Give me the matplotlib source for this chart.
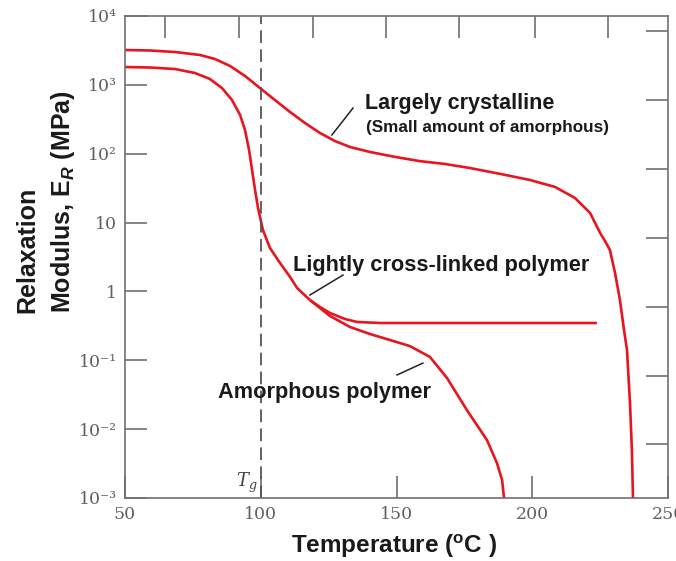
"""
Relaxation modulus vs temperature for amorphous, lightly cross-linked
and largely crystalline polymers (textbook style figure).
"""
import matplotlib as mpl
mpl.use("Agg")
import matplotlib.pyplot as plt
from matplotlib.ticker import FixedLocator, NullFormatter

mpl.rcParams.update({
    "mathtext.fontset": "custom", "mathtext.rm": "Liberation Sans:bold",
    "mathtext.it": "Liberation Sans:italic:bold", "mathtext.bf": "Liberation Sans:bold",
})

# temperature (C) and modulus (MPa)
cryst_T = [50.0, 59.2, 68.4, 77.6, 83.1, 88.7, 94.2, 99.7, 105.2, 110.8, 116.3, 121.8,
           127.3, 132.9, 140.2, 149.4, 158.6, 167.8, 177.0, 188.1, 199.2, 208.4, 215.7,
           221.3, 225.0, 226.8, 228.6, 230.5, 232.3, 233.8, 234.9, 236.0, 236.7, 237.1]
cryst_E = [3208, 3155, 3000, 2716, 2377, 1880, 1345, 900, 603, 403, 279, 200,
           153, 125, 106, 90, 78, 71, 62, 51, 41.5, 32.9, 22.8,
           13.8, 7.06, 5.4, 4.0, 1.85, 0.75, 0.275, 0.141, 0.024, 0.005, 0.001]

base_T = [50.0, 59.2, 68.4, 75.8, 81.3, 85.7, 89.4, 92.4, 94.2, 95.7, 96.8, 97.9, 99.0,
          100.8, 103.4, 107.1, 110.8, 113.4, 118.1]
base_E = [1816, 1786, 1698, 1486, 1216, 900, 603, 365, 221, 113, 58, 29.7, 16.3,
          7.8, 4.27, 2.59, 1.62, 1.12, 0.75]

xlink_T = [118.1, 121.8, 125.5, 131.0, 135.5, 143.9, 223.8]
xlink_E = [0.75, 0.594, 0.486, 0.398, 0.360, 0.348, 0.348]

amorph_T = [118.1, 125.5, 132.9, 140.2, 147.6, 154.9, 162.3, 168.6, 175.9, 183.3,
            187.0, 188.9, 189.6]
amorph_E = [0.75, 0.44, 0.304, 0.241, 0.197, 0.161, 0.112, 0.0553, 0.019, 0.00696,
            0.00322, 0.00182, 0.001]

x_ticks = [50, 100, 150, 200, 250]
x_labels = ["50", "100", "150", "200", "250"]
y_ticks = [1e-3, 1e-2, 1e-1, 1, 10, 1e2, 1e3, 1e4]
y_labels = ["10⁻³", "10⁻²", "10⁻¹", "1", "10", "10²", "10³", "10⁴"]
top_ticks = [64.7, 91.9, 119.1, 146.3, 173.2, 201.1, 227.9]
right_ticks = [6e-3, 6e-2, 0.6, 6, 60, 600, 6000]
Tg = 100

RED = "#e8141e"
GREY = "#707070"

fig = plt.figure(figsize=(6.76, 5.61), dpi=100)
ax = fig.add_axes([125/676, 1-498/561, 543/676, 482/561])
ax.set_yscale("log")
ax.set_xlim(50, 250); ax.set_ylim(1e-3, 1e4)

for T, E in ((cryst_T, cryst_E), (base_T, base_E), (xlink_T, xlink_E), (amorph_T, amorph_E)):
    ax.plot(T, E, color=RED, lw=1.9, solid_capstyle="butt", solid_joinstyle="round")

ax.axvline(Tg, color="#555555", lw=1.3, dashes=(7, 3.5))
ax.text(Tg - 1.3, 1.12e-3, r"$T_g$", ha="right", va="bottom", fontsize=13,
        color="#444444", math_fontfamily="dejavuserif")

for s in ax.spines.values():
    s.set_color(GREY); s.set_linewidth(1.2)

ax.xaxis.set_major_locator(FixedLocator(x_ticks))
ax.set_xticklabels(x_labels)
ax.yaxis.set_major_locator(FixedLocator(y_ticks))
ax.set_yticklabels(y_labels)
ax.xaxis.set_minor_locator(FixedLocator(top_ticks))
ax.yaxis.set_minor_locator(FixedLocator(right_ticks))
ax.xaxis.set_minor_formatter(NullFormatter())
ax.yaxis.set_minor_formatter(NullFormatter())
ax.tick_params(which="major", direction="in", length=16, width=1.2, color=GREY,
               top=False, right=False, pad=6, labelsize=12.5, labelcolor="#606060")
ax.tick_params(which="minor", direction="in", length=16, width=1.2, color=GREY,
               top=True, bottom=False, right=True, left=False)
for lab in ax.get_xticklabels() + ax.get_yticklabels():
    lab.set_family("DejaVu Serif")

# annotations
bold = dict(family="Liberation Sans", fontweight="bold", color="#1a1a1a")
ax.text(0.442, 0.8195, "Largely crystalline", transform=ax.transAxes, va="center",
        fontsize=15.5, **bold)
ax.text(0.4438, 0.7697, "(Small amount of amorphous)", transform=ax.transAxes, va="center",
        fontsize=12.3, **bold)
ax.plot([126.2, 134.0], [187, 461], color="#222222", lw=1.1)
ax.text(0.3094, 0.4834, "Lightly cross-linked polymer", transform=ax.transAxes, va="center",
        fontsize=15.7, **bold)
ax.plot([118.1, 130.3], [0.887, 1.73], color="#222222", lw=1.1)
ax.text(0.1713, 0.2199, "Amorphous polymer", transform=ax.transAxes, va="center",
        fontsize=15.7, **bold)
ax.plot([150.2, 159.7], [0.0612, 0.091], color="#222222", lw=1.1)

fig.text(394/676, 1-553/561, "Temperature ($^{\\rm o}$C )", ha="center", va="baseline",
         fontsize=17.5, **bold)
fig.text(27/676, 1-313/561, "Relaxation", rotation=90, ha="center", va="bottom",
         fontsize=18, **bold)
fig.text(63/676, 1-313/561, "Modulus, E$_{\\mathit{R}}$ (MPa)", rotation=90,
         ha="center", va="bottom", fontsize=18, **bold)

fig.savefig("out.png", dpi=100)
